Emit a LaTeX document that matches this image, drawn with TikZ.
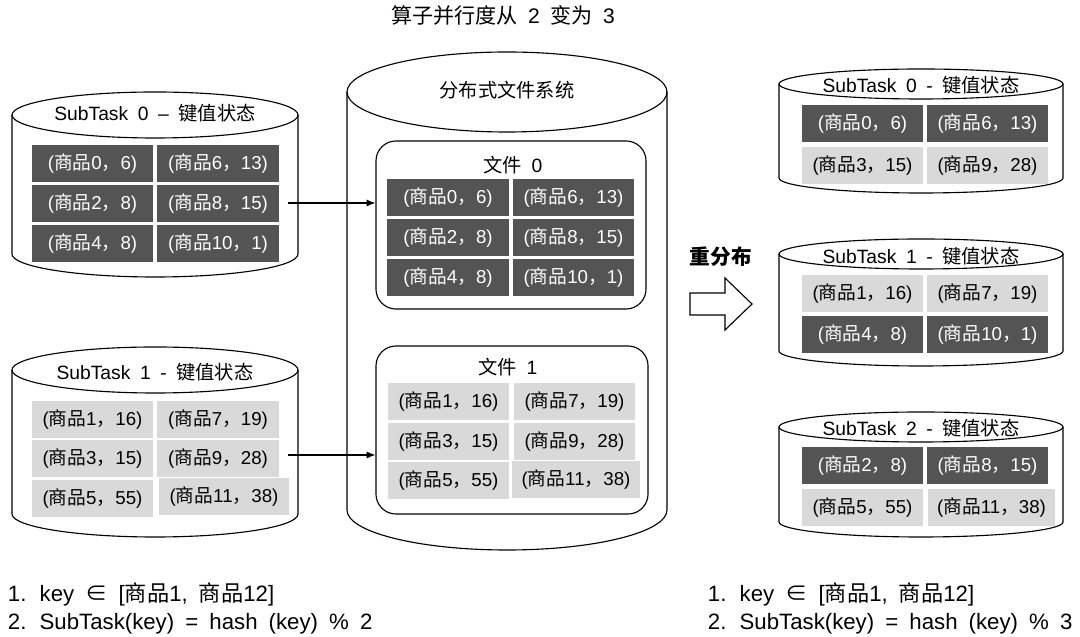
\documentclass[tikz,border=0pt]{standalone}
\usepackage{fontspec}
\setmainfont[WordSpace=1.8]{Liberation Sans}
\newfontfamily\cjk{Noto Sans CJK SC}
\usetikzlibrary{arrows.meta, positioning}

\newcommand\zh[1]{{\cjk #1}}
\newcommand\goods[2]{(\zh{商品}#1\zh{，}#2)}

\definecolor{cellgray}{HTML}{545454}
\definecolor{cellsilver}{HTML}{D9D9D9}

\tikzset{
  cyl/.style={draw=black, line width=0.8pt},
  darkbox/.style={fill=cellgray, text=white, minimum width=3.025cm, minimum height=0.925cm,
    inner sep=0pt, font=\fontsize{13.3}{15}\selectfont},
  lightbox/.style={darkbox, fill=cellsilver, text=black},
  filebox/.style={draw, line width=0.8pt, rounded corners=0.5cm, minimum height=4.2cm},
  captext/.style={font=\fontsize{13.7}{15}\selectfont},
  notetext/.style={anchor=west, font=\fontsize{15.8}{17}\selectfont}
}

\begin{document}
\begin{tikzpicture}[x=0.025cm, y=0.025cm]

        \useasboundingbox (0,0) rectangle (1080,637);

        \node[font=\fontsize{15}{17}\selectfont] (title) at (503,622) {\zh{算子并行度从} 2 \zh{变为} 3};

        % cylinders: centre x / top y / bottom y / x radius / y radius
        \foreach \cx/\yt/\yb/\rx/\ry in {155/522/383/143/23, 155/267/123/143/23, 507/545/127/160/40,
                                          921/553/459/142/15, 921/383/286/142/15, 921/210/115/142/15}
        {
            \draw[cyl] ({\cx-\rx},\yt) -- ({\cx-\rx},\yb)
                arc[start angle=180, end angle=360, x radius=\rx, y radius=\ry] -- ({\cx+\rx},\yt);
            \draw[cyl] (\cx,\yt) ellipse[x radius=\rx, y radius=\ry];
        }

        \node[captext] (st0) at (155,524) {SubTask 0 – \zh{键值状态}};
        \node[captext] (st1) at (155,265) {SubTask 1 - \zh{键值状态}};
        \node[captext] (dfs) at (507,547) {\zh{分布式文件系统}};
        \node[captext] (rt0) at (921,552) {SubTask 0 - \zh{键值状态}};
        \node[captext] (rt1) at (921,381) {SubTask 1 - \zh{键值状态}};
        \node[captext] (rt2) at (921,209) {SubTask 2 - \zh{键值状态}};

        % files inside the file system
        \node[filebox, minimum width=6.75cm] (file0) at (511,412) {};
        \node[filebox, minimum width=6.8cm] (file1) at (512,207) {};
        \node[captext] (f0title) at (513,472) {\zh{文件} 0};
        \node[captext] (f1title) at (508,270) {\zh{文件} 1};

        % dark state entries
        \foreach \n/\x/\y/\k/\v in {a0/92.5/473/0/6, a6/218/473/6/13, a2/92.5/433/2/8,
                                    a8/218/433/8/15, a4/92.5/393/4/8, a10/218/393/10/1,
                                    f0/448/439.5/0/6, f6/573.5/439.5/6/13, f2/448/399.5/2/8,
                                    f8/573.5/399.5/8/15, f4/448/359.5/4/8, f10/573.5/359.5/10/1,
                                    r0/862.5/513.5/0/6, r6/987.5/513.5/6/13,
                                    r4/862.5/302.5/4/8, r10/987.5/302.5/10/1,
                                    r2/862.5/171.5/2/8, r8/987.5/171.5/8/15}
            \node[darkbox] (\n) at (\x,\y) {\goods{\k}{\v}};

        % light state entries
        \foreach \n/\x/\y/\k/\v in {b1/92.5/217/1/16, b7/218/217/7/19, b3/92.5/178/3/15,
                                    b9/218/178/9/28, b5/92.5/138.5/5/55,
                                    g1/448.5/235.5/1/16, g7/574.5/235.5/7/19, g3/448.5/195.5/3/15,
                                    g9/574.5/195.5/9/28, g5/448.5/156/5/55,
                                    r3/862.5/471.5/3/15, r9/987.5/471.5/9/28,
                                    r1/862.5/343.5/1/16, r7/987.5/343.5/7/19,
                                    r5/862.5/129.5/5/55}
            \node[lightbox] (\n) at (\x,\y) {\goods{\k}{\v}};
        \node[lightbox, minimum width=3.25cm] (b11) at (224,140) {\goods{11}{38}};
        \node[lightbox, minimum width=3.2cm] (g11) at (576,157) {\goods{11}{38}};
        \node[lightbox, minimum width=3.175cm] (r11) at (991.5,129.5) {\goods{11}{38}};

        % checkpoints go to the files
        \coordinate (out0) at (288,434);
        \coordinate (out1) at (288,182);
        \draw[line width=0.8pt, -{Latex[length=2.2mm, width=1.8mm]}] (out0) -- (out0 -| file0.west);
        \draw[line width=0.8pt, -{Latex[length=2.2mm, width=1.8mm]}] (out1) -- (out1 -| file1.west);

        % redistribution
        \node[font=\cjk\bfseries\fontsize{14.7}{16}\selectfont] (redist) at (721,380) {重分布};
        \draw[line width=0.8pt] (690,344) -- (725,344) -- (725,359) -- (752,333) -- (725,307)
            -- (725,322) -- (690,322) -- cycle;

        \node[notetext] (keyl) at (3,43) {1. key \zh{∈} [\zh{商品}1, \zh{商品}12]};
        \node[notetext] (hashl) at (3,13) {2. SubTask(key) = hash (key) \% 2};
        \node[notetext] (keyr) at (703,43) {1. key \zh{∈} [\zh{商品}1, \zh{商品}12]};
        \node[notetext] (hashr) at (703,13) {2. SubTask(key) = hash (key) \% 3};

\end{tikzpicture}
\end{document}
